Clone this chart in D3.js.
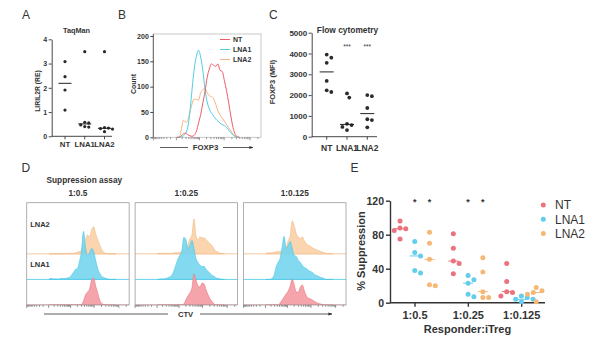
<!DOCTYPE html>
<html>
<head>
<meta charset="utf-8">
<title>LIRIL2R knockdown and iTreg suppression</title>
<script src="https://cdn.jsdelivr.net/npm/d3@7/dist/d3.min.js"></script>
<style>
  html, body { margin: 0; padding: 0; background: #fff; }
  svg { display: block; font-family: "Liberation Sans", Arial, Helvetica, sans-serif; }
  text { fill: #333; }
</style>
</head>
<body>
<svg id="fig" width="614" height="341" viewBox="0 0 614 341"></svg>
<script>
// ---------------- data ----------------
const groups = ["NT", "LNA1", "LNA2"];

// A: TaqMan, LIRIL2R relative expression
const taqTicks = [0, 1, 2, 3, 4];
const taqNT   = [3.08, 2.46, 1.91, 1.08];
const taqLNA1 = [3.49, 0.58, 0.55, 0.47, 0.40, 0.38];
const taqLNA2 = [3.49, 0.36, 0.34, 0.32, 0.30, 0.19];

// B: FOXP3 histograms (display channel, cell count)
const countTicks = [0, 50, 100, 150, 200];
const foxp3Channel = [22,24,26,28,30,32,34,36,38,40,42,44,46,48,50,52,54,56,58,60,62,64,66,68,70,72,74,76,78,80];
const foxp3NT   = [0,0,3,7,8,5,3,2,4,12,28,45,68,90,118,135,145,142,140,145,132,130,112,92,68,42,20,6,1,0];
const foxp3LNA1 = [0,0,1,3,8,20,50,95,135,160,172,158,132,95,70,56,48,42,36,32,28,25,23,20,14,9,5,1,0,0];
const foxp3LNA2 = [0,0,15,34,30,33,50,66,76,74,74,88,94,96,88,82,80,76,65,52,44,38,32,25,19,13,6,2,0,0];

// C: flow cytometry, FOXP3 MFI
const mfiTicks = [0, 1000, 2000, 3000, 4000, 5000];
const mfiNT   = [3950, 3800, 3550, 2680, 2150, 2230];
const mfiLNA1 = [2080, 1880, 620, 560, 470, 320];
const mfiLNA2 = [2000, 1950, 1380, 840, 800, 450];
const mfiSig  = ["", "***", "***"];

// D: CTV dilution histograms per Responder:iTreg ratio
const ratios = ["1:0.5", "1:0.25", "1:0.125"];
const ctvChannel = [22,24,26,28,30,32,34,36,38,40,42,44,46,48,50,52,54,56,58,60,62,64,66,68,70,72,74,76,78,80,82,84,86,88];
const ctvLNA2 = [
  [0,0,0,0,0,0,0,0,0,1,1,1,1,2,3,5,7,12,28,38,34,48,54,40,28,18,8,3,1,0,0,0,0,0],
  [1,1,1,1,1,1,1,1,2,2,2,3,4,6,9,18,30,38,70,36,28,34,32,32,28,24,20,16,9,5,3,1,1,0],
  [1,2,2,2,3,4,4,5,6,10,14,26,36,66,56,40,34,30,34,26,20,17,15,12,10,8,6,5,3,2,1,0,0,0]
];
const ctvLNA1 = [
  [1,2,1,1,1,1,2,2,2,3,4,8,14,20,22,36,56,96,64,48,54,62,56,38,22,12,6,4,2,1,0,0,0,0],
  [0,1,1,1,2,3,5,8,16,28,40,48,56,84,80,62,68,78,62,42,34,28,26,26,20,16,12,8,6,3,2,1,0,0],
  [0,0,0,2,8,24,34,42,64,86,62,68,76,62,48,46,38,34,28,24,22,18,16,14,10,8,6,4,3,1,0,0,0,0]
];
const ctvNT = [
  [0,0,0,0,0,0,0,0,0,0,0,0,0,0,0,0,1,8,20,26,32,50,54,38,24,10,3,1,0,0,0,0,0,0],
  [0,0,0,0,0,0,0,0,0,0,0,0,0,2,10,18,24,34,62,50,38,36,44,42,30,20,12,6,2,0,0,0,0,0],
  [0,0,0,0,0,0,0,4,10,16,22,28,38,52,40,26,26,36,40,28,18,14,12,10,7,5,3,2,1,0,0,0,0,0]
];

// E: % suppression per ratio (five donors each)
const supTicks = [0, 40, 80, 120];
const supNT   = [[96, 88, 85, 87, 75], [81, 64, 49, 46, 34], [46, 25, 13, 12, 8]];
const supLNA1 = [[72, 59, 55, 38, 35], [32, 27, 23, 10, 7], [8, 6, 4, 4, 1]];
const supLNA2 = [[83, 70, 51, 21, 20], [53, 36, 13, 6, 6], [18, 14, 12, 10, 1]];
const supSigLNA1 = ["*", "*", ""];
const supSigLNA2 = ["*", "*", ""];

// ---------------- styles ----------------
const FONT = '"Liberation Sans", Arial, Helvetica, sans-serif';
const INK = "#333";
const lineColor = { NT: "#ee5c67", LNA1: "#4fcfe3", LNA2: "#f4b47f" };
const fillColor = { NT: "#f39aa1", LNA1: "#74d5ee", LNA2: "#f9d0a6" };
const edgeColor = { NT: "#ea7680", LNA1: "#45c6e6", LNA2: "#f3bb86" };
const dotColor  = { NT: "#ea737d", LNA1: "#64cdec", LNA2: "#f6b877" };

const svg = d3.select("#fig");

const defs = svg.append("defs");
defs.append("marker")
  .attr("id", "arrow").attr("viewBox", "0 0 10 10")
  .attr("refX", 9).attr("refY", 5)
  .attr("markerWidth", 5).attr("markerHeight", 5)
  .attr("orient", "auto")
  .append("path").attr("d", "M0,1.5L10,5L0,8.5Z").attr("fill", INK);

function label(g, x, y, s, size, opts = {}) {
  const t = g.append("text")
    .attr("x", x).attr("y", y)
    .attr("font-size", size)
    .attr("font-weight", opts.weight || "bold")
    .attr("text-anchor", opts.anchor || "start")
    .attr("fill", opts.fill || INK)
    .text(s);
  if (opts.rotate) t.attr("transform", `rotate(-90,${x},${y})`);
  return t;
}

function styleAxis(sel, size, sw) {
  sel.attr("font-family", FONT).attr("font-size", size);
  sel.select(".domain").attr("stroke", INK).attr("stroke-width", sw);
  sel.selectAll(".tick line").attr("stroke", INK).attr("stroke-width", sw);
  sel.selectAll(".tick text").attr("fill", INK).attr("font-weight", "bold");
}

// spread dots of one column sideways so they do not overlap
function dodge(pys, r) {
  const step = 2 * r + 0.8;
  const order = d3.range(pys.length).sort((a, b) => pys[a] - pys[b]);
  const placed = [];
  const off = new Array(pys.length).fill(0);
  order.forEach(i => {
    const cands = [0];
    for (let k = 1; k < 8; k++) cands.push(k * step / 2, -k * step / 2);
    for (const dx of cands) {
      if (placed.every(p => Math.hypot(p.dx - dx, p.py - pys[i]) >= 2 * r + 0.4)) {
        off[i] = dx; placed.push({ dx, py: pys[i] }); break;
      }
    }
  });
  return off;
}

function dotColumn(g, vals, cx, y, r, fill, medW, medColor) {
  const pys = vals.map(y);
  const off = dodge(pys, r);
  g.selectAll(null).data(vals).join("circle")
    .attr("cx", (d, i) => cx + off[i]).attr("cy", d => y(d))
    .attr("r", r).attr("fill", fill);
  const m = d3.median(vals);
  g.append("line")
    .attr("x1", cx - medW / 2).attr("x2", cx + medW / 2)
    .attr("y1", y(m)).attr("y2", y(m))
    .attr("stroke", medColor).attr("stroke-width", 1);
}

// logicle-like tick marks of a cytometry axis
function flowTicks(g, x0, x1, yBase) {
  const s = d3.scaleSymlog().domain([-1000, 262144]).constant(150).range([x0, x1]);
  const t = [{ v: 0, major: true }];
  for (const sign of [-1, 1])
    for (let e = 2; e <= 5; e++)
      for (let k = 1; k <= 9; k++) {
        const v = sign * k * Math.pow(10, e);
        if (v >= -1000 && v <= 262144) t.push({ v, major: k === 1 && e >= 3 });
      }
  g.selectAll(null).data(t).join("line")
    .attr("x1", d => s(d.v)).attr("x2", d => s(d.v))
    .attr("y1", yBase).attr("y2", d => yBase + (d.major ? 3 : 1.8))
    .attr("stroke", "#555").attr("stroke-width", 0.6);
}

// ---------------- panel letters ----------------
[["A", 22, 18.5], ["B", 118, 18.5], ["C", 269, 18.5], ["D", 21.5, 171.5], ["E", 350.5, 171.5]]
  .forEach(([s, x, y]) => label(svg, x, y, s, 12, { weight: "normal" }));

// ---------------- A ----------------
(function () {
  const g = svg.append("g");
  const y = d3.scaleLinear().domain([0, 4]).range([136.3, 39.3]);
  const x = d3.scalePoint().domain(groups).range([65, 104.5]);
  const ax = g.append("g").attr("transform", "translate(51.7,0)")
    .call(d3.axisLeft(y).tickValues(taqTicks).tickFormat(d3.format("d"))
      .tickSize(3).tickSizeOuter(0).tickPadding(1.5));
  styleAxis(ax, 7, 0.9);
  g.append("line").attr("x1", 51.7).attr("x2", 112).attr("y1", y(0)).attr("y2", y(0))
    .attr("stroke", INK).attr("stroke-width", 0.9);
  groups.forEach(k => {
    g.append("line").attr("x1", x(k)).attr("x2", x(k)).attr("y1", y(0)).attr("y2", y(0) + 3)
      .attr("stroke", INK).attr("stroke-width", 0.9);
    label(g, x(k), 146.5, k, 7.8, { anchor: "middle" });
  });
  [taqNT, taqLNA1, taqLNA2].forEach((vals, i) =>
    dotColumn(g, vals, x(groups[i]), y, 1.6, "#2b2b2b", 13, "#222"));
  label(g, 76.5, 33, "TaqMan", 7.3, { anchor: "middle" });
  label(g, 39.5, 91, "LIRIL2R (RE)", 6.8, { anchor: "middle", rotate: true });
})();

// ---------------- B ----------------
(function () {
  const g = svg.append("g");
  const box = { x0: 153.3, x1: 261, y0: 34, y1: 137.3 };
  const x = d3.scaleLinear().domain([0, 100]).range([box.x0, box.x1]);
  const y = d3.scaleLinear().domain([0, 200]).range([box.y1, 36]);
  g.append("rect").attr("x", box.x0).attr("y", box.y0)
    .attr("width", box.x1 - box.x0).attr("height", box.y1 - box.y0)
    .attr("fill", "none").attr("stroke", "#bbb").attr("stroke-width", 0.8);
  g.append("line").attr("x1", box.x0).attr("x2", box.x0).attr("y1", box.y0).attr("y2", box.y1)
    .attr("stroke", "#555").attr("stroke-width", 0.9);
  const ax = g.append("g").attr("transform", `translate(${box.x0},0)`)
    .call(d3.axisLeft(y).tickValues(countTicks).tickSize(3).tickSizeOuter(0).tickPadding(1.5));
  styleAxis(ax, 7, 0.9);
  ax.select(".domain").remove();
  flowTicks(g, box.x0, box.x1, box.y1);

  const line = d3.line().x((d, i) => x(foxp3Channel[i])).y(d => y(d)).curve(d3.curveMonotoneX);
  [["LNA2", foxp3LNA2], ["LNA1", foxp3LNA1], ["NT", foxp3NT]].forEach(([k, vals]) => {
    g.append("path").attr("d", line(vals)).attr("fill", "none")
      .attr("stroke", lineColor[k]).attr("stroke-width", 1);
  });
  // legend
  groups.forEach((k, i) => {
    const by = 42 + i * 10;
    g.append("line").attr("x1", 220).attr("x2", 230).attr("y1", by - 2.5).attr("y2", by - 2.5)
      .attr("stroke", lineColor[k]).attr("stroke-width", 1);
    label(g, 233, by, k, 7);
  });
  label(g, 136, 84, "Count", 7, { anchor: "middle", rotate: true });
  // FOXP3 axis caption with arrow
  g.append("line").attr("x1", 160).attr("x2", 188).attr("y1", 147.5).attr("y2", 147.5)
    .attr("stroke", INK).attr("stroke-width", 0.8);
  label(g, 205.5, 150.3, "FOXP3", 7.8, { anchor: "middle" });
  g.append("line").attr("x1", 223).attr("x2", 253).attr("y1", 147.5).attr("y2", 147.5)
    .attr("stroke", INK).attr("stroke-width", 0.8).attr("marker-end", "url(#arrow)");
})();

// ---------------- C ----------------
(function () {
  const g = svg.append("g");
  const y = d3.scaleLinear().domain([0, 5000]).range([136.7, 32.7]);
  const x = d3.scalePoint().domain(groups).range([326.7, 367.3]);
  const ax = g.append("g").attr("transform", "translate(311.7,0)")
    .call(d3.axisLeft(y).tickValues(mfiTicks).tickFormat(d3.format("d"))
      .tickSize(3).tickSizeOuter(0).tickPadding(1.5));
  styleAxis(ax, 8, 0.9);
  g.append("line").attr("x1", 311.7).attr("x2", 377).attr("y1", y(0)).attr("y2", y(0))
    .attr("stroke", INK).attr("stroke-width", 0.9);
  groups.forEach((k, i) => {
    g.append("line").attr("x1", x(k)).attr("x2", x(k)).attr("y1", y(0)).attr("y2", y(0) + 3)
      .attr("stroke", INK).attr("stroke-width", 0.9);
    label(g, x(k), 151.3, k, 8.5, { anchor: "middle" });
    if (mfiSig[i]) label(g, x(k), 49, mfiSig[i], 6.5, { anchor: "middle", weight: "normal" });
  });
  [mfiNT, mfiLNA1, mfiLNA2].forEach((vals, i) =>
    dotColumn(g, vals, x(groups[i]), y, 1.9, "#2b2b2b", 14, "#222"));
  label(g, 347.5, 33.3, "Flow cytometry", 8.4, { anchor: "middle" });
  label(g, 275, 82, "FOXP3 (MFI)", 7.5, { anchor: "middle", rotate: true });
})();

// ---------------- D ----------------
(function () {
  const g = svg.append("g");
  const band = d3.scaleBand().domain(ratios).range([26.7, 346]).paddingInner(0.055);
  const top = 202.7, bottom = 305, h = bottom - top;
  const rowBase = { LNA2: top + h * 0.5, LNA1: top + h * 0.75, NT: bottom };
  const hScale = d3.scaleLinear().domain([0, 100]).range([0, 50]);

  ratios.forEach((r, ri) => {
    const bx = band(r), bw = band.bandwidth();
    const x = d3.scaleLinear().domain([0, 101]).range([bx, bx + bw]);
    const cid = "clipD" + ri;
    defs.append("clipPath").attr("id", cid)
      .append("rect").attr("x", bx).attr("y", top).attr("width", bw).attr("height", h);
    const cg = g.append("g").attr("clip-path", `url(#${cid})`);
    [["LNA2", ctvLNA2[ri]], ["LNA1", ctvLNA1[ri]], ["NT", ctvNT[ri]]].forEach(([k, vals]) => {
      const base = rowBase[k];
      cg.append("line").attr("x1", bx).attr("x2", bx + bw).attr("y1", base).attr("y2", base)
        .attr("stroke", edgeColor[k]).attr("stroke-width", 0.8);
      const area = d3.area()
        .x((d, i) => x(ctvChannel[i]))
        .y0(base).y1(d => base - hScale(d))
        .curve(d3.curveMonotoneX);
      cg.append("path").attr("d", area(vals))
        .attr("fill", fillColor[k]).attr("fill-opacity", 0.9)
        .attr("stroke", edgeColor[k]).attr("stroke-width", 0.6);
    });
    g.append("rect").attr("x", bx).attr("y", top).attr("width", bw).attr("height", h)
      .attr("fill", "none").attr("stroke", "#9c9c9c").attr("stroke-width", 0.8);
    flowTicks(g, bx, bx + bw, bottom);
    label(g, bx + bw / 2, 196, r, 8.3, { anchor: "middle" });
  });
  label(g, band(ratios[0]) + 3.5, 227, "LNA2", 7.5);
  label(g, band(ratios[0]) + 3.5, 266.5, "LNA1", 7.5);
  label(g, 46.5, 183, "Suppression assay", 8.3);
  // CTV axis caption with arrow
  g.append("line").attr("x1", 44).attr("x2", 168).attr("y1", 314).attr("y2", 314)
    .attr("stroke", INK).attr("stroke-width", 0.8);
  label(g, 185.5, 317, "CTV", 7.6, { anchor: "middle" });
  g.append("line").attr("x1", 200).attr("x2", 332).attr("y1", 314).attr("y2", 314)
    .attr("stroke", INK).attr("stroke-width", 0.8).attr("marker-end", "url(#arrow)");
})();

// ---------------- E ----------------
(function () {
  const g = svg.append("g");
  const y = d3.scaleLinear().domain([0, 120]).range([302.7, 200.7]);
  const x = d3.scalePoint().domain(ratios).range([415, 521.7]);
  const sub = d3.scalePoint().domain(groups).range([-15, 14.5]);
  const ax = g.append("g").attr("transform", "translate(390,0)")
    .call(d3.axisLeft(y).tickValues(supTicks).tickSize(4).tickSizeOuter(0).tickPadding(2));
  styleAxis(ax, 10.5, 1.4);
  g.append("line").attr("x1", 390).attr("x2", 545).attr("y1", y(0)).attr("y2", y(0))
    .attr("stroke", INK).attr("stroke-width", 1.4);
  ratios.forEach((r, ri) => {
    g.append("line").attr("x1", x(r)).attr("x2", x(r)).attr("y1", y(0)).attr("y2", y(0) + 4)
      .attr("stroke", INK).attr("stroke-width", 1.4);
    label(g, x(r), 318.5, r, 11, { anchor: "middle" });
    [["NT", supNT], ["LNA1", supLNA1], ["LNA2", supLNA2]].forEach(([k, arr]) =>
      dotColumn(g, arr[ri], x(r) + sub(k), y, 2.5, dotColor[k], 10, dotColor[k]));
    if (supSigLNA1[ri]) label(g, x(r) + sub("LNA1"), 205, supSigLNA1[ri], 9, { anchor: "middle" });
    if (supSigLNA2[ri]) label(g, x(r) + sub("LNA2"), 205, supSigLNA2[ri], 9, { anchor: "middle" });
  });
  label(g, 467.5, 333, "Responder:iTreg", 11, { anchor: "middle" });
  label(g, 364.5, 251, "% Suppression", 11, { anchor: "middle", rotate: true });
  // legend
  groups.forEach((k, i) => {
    const cy = 205 + i * 14.2;
    g.append("circle").attr("cx", 543.3).attr("cy", cy).attr("r", 2.5).attr("fill", dotColor[k]);
    label(g, 555, cy + 4.3, k, 12, { weight: "normal" });
  });
})();
</script>
</body>
</html>
